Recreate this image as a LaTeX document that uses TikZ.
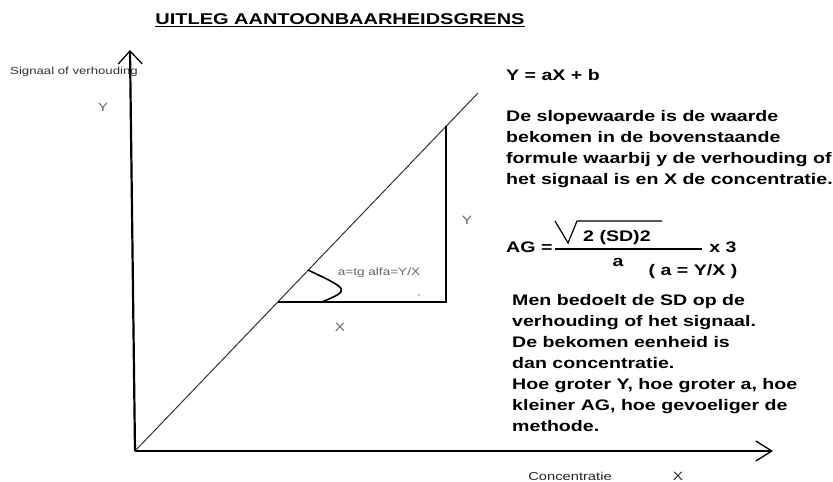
\documentclass[tikz,border=0pt]{standalone}
\usepackage{fontspec}
\setmainfont[FakeStretch=1.28]{Liberation Sans}
\usepackage{xcolor}
\usepackage{tikz}
\usetikzlibrary{arrows.meta, calc}

\begin{document}
\begin{tikzpicture}[x=10pt, y=10pt,
  axis/.style={line width=2.2pt, -{Straight Barb[length=13pt, width=24pt, line width=1.3pt]}},
  lbl/.style={text=black!60, font=\fontsize{12}{14}\selectfont, inner sep=0pt},
  note/.style={font=\bfseries\fontsize{15.3}{21}\selectfont, align=left, inner sep=0pt, anchor=north west}
]
  \useasboundingbox (0,0) rectangle (83.3,48.2);
  % Title
  \node[font=\bfseries\fontsize{15.6}{18}\selectfont] (title) at (34.0,46.2) {\underline{UITLEG AANTOONBAARHEIDSGRENS}};

  % Axes
  \coordinate (O) at (13.5,3.1);
  \coordinate (ytop) at (13.0,43.2);
  \coordinate (xend) at (77.3,3.1);
  \draw[axis] (O) -- (ytop);
  \draw[axis, -{Straight Barb[length=16pt, width=20pt, line width=1.3pt]}] (O) -- (xend);

  % Line Y = aX + b
  \coordinate (T) at (47.8,38.9);
  \draw[line width=1pt, black!80] (O) -- (T);

  % Slope triangle
  \coordinate (A) at (27.8,18.0);
  \coordinate (B) at (44.6,18.0);
  \coordinate (C) at (44.6,35.6);
  \draw[line width=1.8pt] (A) -- (B) -- (C);

  % Angle alfa
  \draw[line width=1.6pt] (30.8,21.2) .. controls (35.0,19.2) .. (32.2,18.0);
  \node[lbl, font=\fontsize{10.6}{12}\selectfont] (alfa) at (37.9,20.9) {a=tg alfa=Y/X};
  \fill (41.9,18.7) circle (0.6pt);
  \node[lbl] (dx) at (34.0,15.5) {X};
  \node[lbl] (dy) at (46.7,26.2) {Y};

  % Axis labels
  \node[lbl, text=black!80, font=\fontsize{10.3}{12}\selectfont] (ylab) at (7.4,41.0) {Signaal of verhouding};
  \node[lbl] (ysym) at (10.3,37.5) {Y};
  \node[lbl, text=black!85, font=\fontsize{11.5}{13}\selectfont] (xlab) at (57.0,0.6) {Concentratie};
  \node[lbl, text=black!85] (xsym) at (67.8,0.6) {X};

  % Explanation
  \node[note, anchor=west] (eq) at (50.6,40.7) {Y = aX + b};
  \node[note] (uitleg) at (50.6,37.2) {De slopewaarde is de waarde\\bekomen in de bovenstaande\\formule waarbij y de verhouding of\\het signaal is en X de concentratie.};

  % Formula AG
  \node[note, anchor=west] (ag) at (50.6,23.5) {AG =};
  \draw[line width=1.2pt] (55.5,26.1) -- (56.8,23.9) -- (57.7,26.1) -- (66.2,26.1);
  \node[note, anchor=west] (sd) at (58.3,24.4) {2 (SD)2};
  \draw[line width=1.2pt] (55.5,23.3) -- (70.2,23.3);
  \node[note, anchor=center] (x3) at (72.3,23.5) {x 3};
  \node[note, anchor=center] (a) at (61.8,22.0) {a};
  \node[note, anchor=center] (ayx) at (69.3,21.0) {( a = Y/X )};

  \node[note] (sdnote) at (51.2,18.8) {Men bedoelt de SD op de\\verhouding of het signaal.\\De bekomen eenheid is\\dan concentratie.\\Hoe groter Y, hoe groter a, hoe\\kleiner AG, hoe gevoeliger de\\methode.};
\end{tikzpicture}
\end{document}
